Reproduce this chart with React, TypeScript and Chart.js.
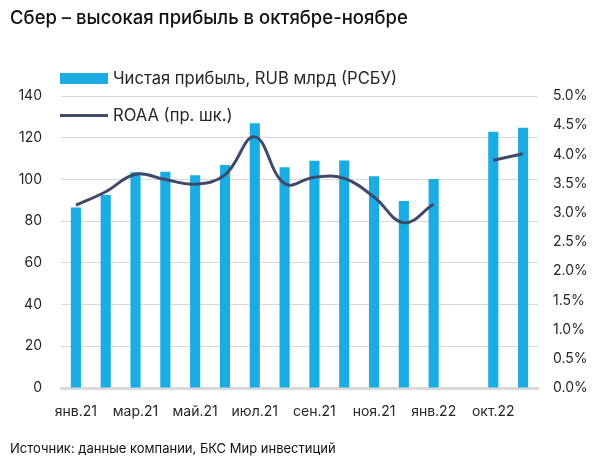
import React, { useEffect, useRef } from 'react';
import { Chart, registerables } from 'chart.js';

Chart.register(...registerables);

const categories = ['янв.21', 'фев.21', 'мар.21', 'апр.21', 'май.21', 'июн.21', 'июл.21', 'авг.21', 'сен.21', 'окт.21', 'ноя.21', 'дек.21', 'янв.22', '', 'окт.22', 'ноя.22'];
const netProfit = [86.6, 92.5, 103.4, 103.7, 102, 106.9, 126.9, 105.8, 109, 109.1, 101.5, 89.6, 100.2, null, 122.9, 124.8];
const roaa = [3.13, 3.36, 3.66, 3.57, 3.49, 3.65, 4.3, 3.5, 3.61, 3.59, 3.27, 2.83, 3.15, null, 3.9, 4.01];
const profitLabel = 'Чистая прибыль, RUB млрд (РСБУ)';
const roaaLabel = 'ROAA (пр. шк.)';
const title = 'Сбер – высокая прибыль в октябре-ноябре';
const source = 'Источник: данные компании, БКС Мир инвестиций';

const BAR = '#1BACE3';
const LINE = '#3F4A6A';
const FONT = 'Inter, "Noto Sans", sans-serif';

export default function App() {
  const ref = useRef<HTMLCanvasElement | null>(null);

  useEffect(() => {
    if (!ref.current) return;
    const chart = new Chart(ref.current, {
      type: 'bar',
      data: {
        labels: categories,
        datasets: [
          {
            type: 'line',
            label: roaaLabel,
            data: roaa,
            yAxisID: 'y1',
            borderColor: LINE,
            backgroundColor: LINE,
            borderWidth: 3,
            pointRadius: 0,
            tension: 0.4,
            spanGaps: false,
            order: 0,
          } as any,
          {
            type: 'bar',
            label: profitLabel,
            data: netProfit,
            yAxisID: 'y',
            backgroundColor: BAR,
            categoryPercentage: 1,
            barPercentage: 0.34,
            order: 1,
          },
        ],
      },
      options: {
        responsive: false,
        animation: false,
        layout: { padding: { top: 96, bottom: 36, left: 0, right: 0 } },
        plugins: {
          legend: { display: false },
          tooltip: { enabled: false },
        },
        scales: {
          x: {
            grid: { display: false, drawTicks: false },
            border: { display: true, color: '#D9D9D9', width: 3 },
            ticks: {
              autoSkip: false,
              maxRotation: 0,
              padding: 15,
              color: '#262626',
              font: { family: FONT, size: 14 },
              callback: (_v: any, i: number) => (i % 2 === 0 ? categories[i] : ''),
            },
            afterFit: (s: any) => { s.height = 36; },
          },
          y: {
            position: 'left',
            min: 0,
            max: 140,
            grid: { color: '#D9D9D9', lineWidth: 1, drawTicks: false },
            border: { display: false },
            ticks: {
              stepSize: 20,
              padding: 19,
              color: '#262626',
              font: { family: FONT, size: 14 },
            },
            afterFit: (s: any) => { s.width = 61; },
          },
          y1: {
            position: 'right',
            min: 0,
            max: 5,
            grid: { display: false, drawTicks: false },
            border: { display: false },
            ticks: {
              stepSize: 0.5,
              padding: 15,
              color: '#262626',
              font: { family: FONT, size: 14 },
              callback: (v: any) => Number(v).toFixed(1) + '%',
            },
            afterFit: (s: any) => { s.width = 62; },
          },
        },
      },
    });
    return () => chart.destroy();
  }, []);

  return (
    <div style={{ position: 'fixed', left: 0, top: 0, width: 600, height: 460, background: '#fff', fontFamily: FONT, color: '#111' }}>
      <canvas ref={ref} width={600} height={460} style={{ position: 'absolute', left: 0, top: 0, width: 600, height: 460 }} />
      <div style={{ position: 'absolute', left: 10, top: 6, fontSize: 18.5, fontWeight: 500, lineHeight: '22px', whiteSpace: 'nowrap' }}>{title}</div>
      <div style={{ position: 'absolute', left: 60, top: 73, width: 48, height: 11, background: BAR }} />
      <div style={{ position: 'absolute', left: 113, top: 68, fontSize: 16.6, lineHeight: '20px', color: '#262626', whiteSpace: 'nowrap' }}>{profitLabel}</div>
      <div style={{ position: 'absolute', left: 60, top: 114, width: 48, height: 3, background: LINE }} />
      <div style={{ position: 'absolute', left: 113, top: 105, fontSize: 16.6, lineHeight: '20px', color: '#262626', whiteSpace: 'nowrap' }}>{roaaLabel}</div>
      <div style={{ position: 'absolute', left: 10, top: 439, fontSize: 13, lineHeight: '18px', whiteSpace: 'nowrap' }}>{source}</div>
    </div>
  );
}
